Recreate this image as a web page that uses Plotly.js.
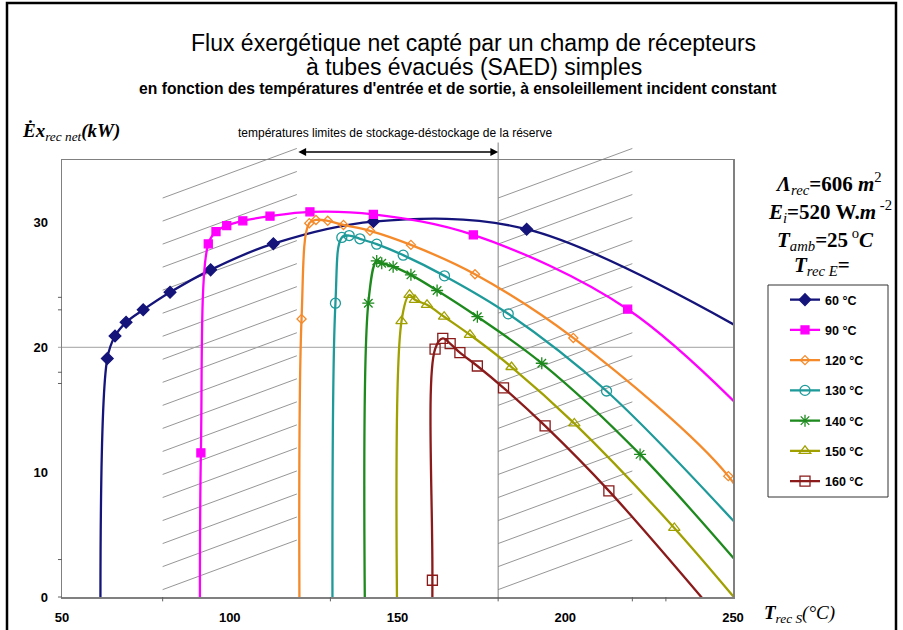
<!DOCTYPE html>
<html><head><meta charset="utf-8">
<script src="https://cdn.plot.ly/plotly-3.0.1.min.js"></script>
<style>html,body{margin:0;padding:0;background:#fff}#chart{width:903px;height:630px}</style>
</head><body><div id="chart"></div>
<script>
// ---- data ----
const seriesNames = ['60 °C', '90 °C', '120 °C', '130 °C', '140 °C', '150 °C', '160 °C'];
const x60  = [61.5, 63.5, 65.8, 69.1, 74.2, 82.2, 94.3, 113.0, 142.8, 188.5, 257];
const y60  = [-6.3, 19.1, 20.9, 22.0, 23.0, 24.4, 26.2, 28.3, 30.07, 29.46, 20.8];
const x90  = [91.3, 91.4, 93.6, 95.9, 99.1, 103.9, 112.0, 123.9, 142.8, 172.6, 218.6, 262];
const y90  = [-15, 11.55, 28.28, 29.27, 29.75, 30.13, 30.5, 30.85, 30.65, 29.0, 23.05, 12.5];
const x120 = [121.1, 121.4, 123.7, 125.7, 129.2, 133.9, 141.8, 154.0, 173.1, 202.4, 248.6, 260];
const y120 = [-15, 22.27, 29.94, 30.2, 30.13, 29.8, 29.33, 28.2, 25.85, 20.75, 9.68, 4.3];
const x130 = [130.8, 131.5, 133.4, 135.6, 138.8, 143.8, 151.7, 164.0, 183.0, 212.3, 258];
const y130 = [-15, 23.53, 28.8, 28.95, 28.69, 28.26, 27.38, 25.72, 22.68, 16.5, 3.8];
const x140 = [140.9, 141.3, 143.8, 145.3, 148.7, 154.0, 161.8, 173.8, 193.0, 222.3, 262];
const y140 = [-15, 23.53, 26.92, 26.73, 26.46, 25.8, 24.55, 22.45, 18.72, 11.42, -0.6];
const x150 = [150.6, 151.2, 153.6, 155.2, 158.8, 163.9, 171.6, 184.0, 202.7, 232.5, 262];
const y150 = [-15, 22.1, 24.2, 23.8, 23.4, 22.45, 21.0, 18.42, 13.9, 5.53, -3.8];
const x160 = [160.3, 160.4, 161.2, 163.5, 165.7, 168.6, 173.8, 181.6, 194.0, 213.0, 250];
const y160 = [-20, 1.34, 19.86, 20.72, 20.3, 19.57, 18.5, 16.75, 13.7, 8.5, -3.0];

const xTickVals = [50, 100, 150, 200, 250];
const yTickVals = [0, 10, 20, 30];
const storageLimits = [120, 180];
const hatchZones = [[80, 120], [180, 220]];

// ---- styles ----
const colors = ['#14147a', '#ff00ff', '#f58a2a', '#1f9a9a', '#1e8a1e', '#a0a000', '#8b1a1a'];
const symbols = ['diamond', 'square', 'diamond-open', 'circle-open', 'asterisk-open', 'triangle-up-open', 'square-open'];
const sizes = [9, 8, 7, 10, 10, 10, 10];
const xs = [x60, x90, x120, x130, x140, x150, x160];
const ys = [y60, y90, y120, y130, y140, y150, y160];

const traces = xs.map((x, i) => ({
  x: x, y: ys[i], name: seriesNames[i], type: 'scatter', mode: 'lines+markers',
  legendgroup: 'g' + i,
  line: {color: colors[i], width: 2.3, shape: 'spline', smoothing: 1},
  marker: {symbol: symbols[i], size: sizes[i], color: colors[i], line: {color: colors[i], width: 1.3}}
}));

const X0 = 50, X1 = 250, Y1 = 35;
const fx = v => (v - X0) / (X1 - X0);
const fy = v => v / Y1;
const L = 62, T = 160, PW = 671, PH = 437;
const px = p => (p - L) / PW;
const py = p => (T + PH - p) / PH;

const shapes = [];
// hatching
hatchZones.forEach(z => {
  for (let k = 0; k < 18; k++) {
    const ya = 0.59 + k * 1.845;
    shapes.push({type: 'line', xref: 'paper', yref: 'paper', x0: fx(z[0]), x1: fx(z[1]),
      y0: fy(ya), y1: fy(ya + 3.97), line: {color: '#8a8a8a', width: 0.9}, layer: 'below'});
  }
});
// gridline at 20
shapes.push({type: 'line', xref: 'paper', yref: 'paper', x0: -0.006, x1: 1, y0: fy(20), y1: fy(20), line: {color: '#a0a0a0', width: 1}, layer: 'below'});
// vertical line at 180
shapes.push({type: 'line', xref: 'paper', yref: 'paper', x0: fx(180), x1: fx(180), y0: 0, y1: fy(36.4), line: {color: '#808080', width: 1}, layer: 'below'});
// small ticks
[0, 3, 17.1, 18, 23, 24].forEach(v => shapes.push({type: 'line', xref: 'paper', yref: 'paper', x0: -0.006, x1: 0, y0: fy(v), y1: fy(v), line: {color: '#606060', width: 1}}));
[80, 130, 180, 220, 230].forEach(v => shapes.push({type: 'line', xref: 'paper', yref: 'paper', x0: fx(v), x1: fx(v), y0: 0, y1: -0.01, line: {color: '#606060', width: 1}}));
// legend frame
shapes.push({type: 'rect', xref: 'paper', yref: 'paper', x0: px(768), x1: px(888), y0: py(497), y1: py(285), line: {color: '#333', width: 1}, fillcolor: 'rgba(0,0,0,0)'});
// outer frame
shapes.push({type: 'rect', xref: 'paper', yref: 'paper', x0: px(7), x1: px(896), y0: py(640), y1: py(3), line: {color: '#000', width: 2.5}, fillcolor: 'rgba(0,0,0,0)'});

const serif = 'Liberation Serif, Times New Roman, serif';
const sans = 'Liberation Sans, Arial, sans-serif';
const C = {xref: 'paper', yref: 'paper', showarrow: false, xanchor: 'center', yanchor: 'middle'};
const annotations = [
  Object.assign({}, C, {x: px(473), y: py(43), text: 'Flux éxergétique net capté par un champ de récepteurs', font: {family: sans, size: 23, color: '#000'}}),
  Object.assign({}, C, {x: px(474), y: py(67), text: 'à tubes évacués (SAED) simples', font: {family: sans, size: 23, color: '#000'}}),
  Object.assign({}, C, {x: px(458), y: py(89), text: "en fonction des températures d'entrée et de sortie, à ensoleillement incident constant", font: {family: sans, size: 15.7, color: '#000', weight: 'bold'}}),
  Object.assign({}, C, {xref: 'x', x: 149.3, y: py(133), text: 'températures limites de stockage-déstockage de la réserve', font: {family: sans, size: 12, color: '#000'}}),
  {xref: 'x', yref: 'paper', x: storageLimits[1], y: py(152), axref: 'x', ax: storageLimits[0], ay: 0, text: '', showarrow: true, arrowside: 'end+start', arrowhead: 2, arrowsize: 1.2, arrowwidth: 1.3, arrowcolor: '#000'},
  Object.assign({}, C, {x: px(20), y: py(132), xanchor: 'left', text: '<b><i>Ėx</i></b><sub><i>rec net</i></sub><b><i>(kW)</i></b>', font: {family: serif, size: 19, color: '#000'}}),
  Object.assign({}, C, {x: px(762), y: py(614), xanchor: 'left', text: '<b><i>T</i></b><sub><i>rec S</i></sub><i>(°C)</i>', font: {family: serif, size: 19, color: '#000'}}),
  Object.assign({}, C, {x: px(828), y: py(183), text: '<b><i>Λ</i></b><sub><i>rec</i></sub><b>=606</b> <b><i>m</i></b><sup>2</sup>', font: {family: serif, size: 21, color: '#000'}}),
  Object.assign({}, C, {x: px(830), y: py(212), text: '<b><i>E</i></b><sub><i>i</i></sub><b>=520 W.</b><b><i>m</i></b><sup> -2</sup>', font: {family: serif, size: 21, color: '#000'}}),
  Object.assign({}, C, {x: px(826), y: py(239), text: '<b><i>T</i></b><sub><i>amb</i></sub><b>=25</b><sup> o</sup><b><i>C</i></b>', font: {family: serif, size: 21, color: '#000'}}),
  Object.assign({}, C, {x: px(822), y: py(266), text: '<b><i>T</i></b><sub><i>rec E</i></sub><b>=</b>', font: {family: serif, size: 21, color: '#000'}})
];

const layout = {
  width: 903, height: 630,
  margin: {l: L, r: 903 - L - PW, t: T, b: 630 - T - PH},
  paper_bgcolor: '#fff', plot_bgcolor: '#fff',
  font: {family: sans, color: '#000'},
  showlegend: true,
  legend: {x: px(785), y: py(285), xanchor: 'left', yanchor: 'top', borderwidth: 0,
           bgcolor: 'rgba(0,0,0,0)', font: {family: sans, size: 12.5, color: '#000', weight: 'bold'}, tracegroupgap: 11},
  xaxis: {range: [X0, X1], tickmode: 'array', tickvals: xTickVals, ticks: '', showgrid: false, zeroline: false,
          showline: true, mirror: true, linecolor: '#808080', linewidth: 1.5,
          tickfont: {family: sans, size: 13, weight: 'bold'}, ticklabelstandoff: 8},
  yaxis: {range: [0, Y1], tickmode: 'array', tickvals: yTickVals, ticks: '', showgrid: false, zeroline: false,
          showline: true, mirror: true, linecolor: '#808080', linewidth: 1.5,
          tickfont: {family: sans, size: 13, weight: 'bold'}, ticklabelstandoff: 10},
  shapes: shapes,
  annotations: annotations
};

Plotly.newPlot('chart', traces, layout, {displayModeBar: false, staticPlot: true});
</script>
</body></html>
